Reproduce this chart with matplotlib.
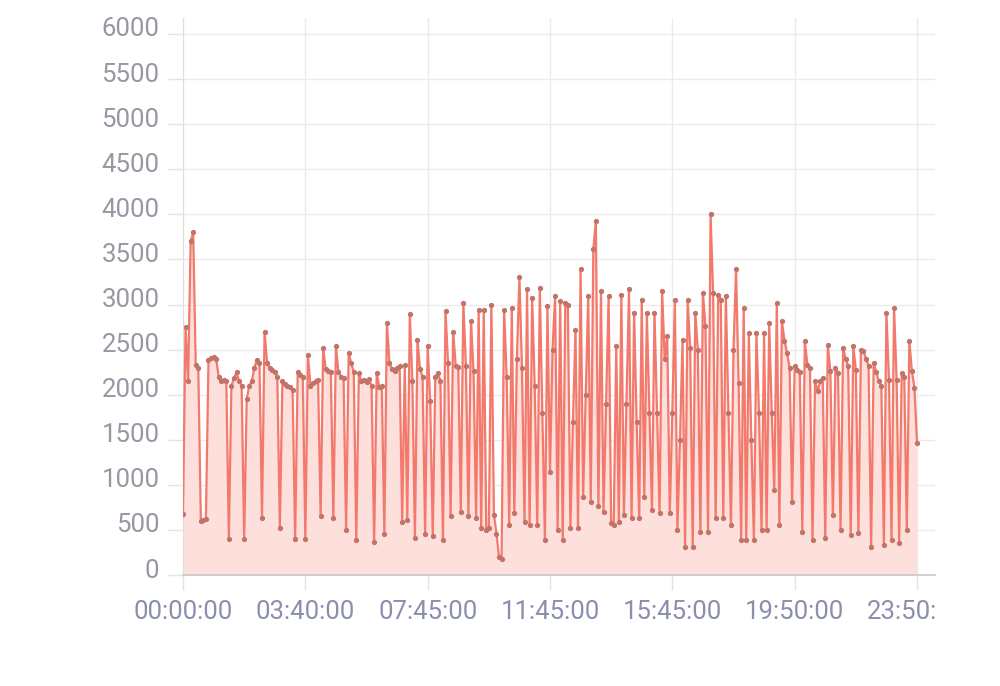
import matplotlib
matplotlib.use("Agg")
import matplotlib.pyplot as plt
from matplotlib.transforms import ScaledTranslation, Bbox

# readings taken over one day, one value per sample slot
values = [
    680, 2750, 2150, 3700, 3800, 2330, 2300, 600, 610, 620, 2380, 2410,
    2420, 2400, 2200, 2150, 2160, 2150, 400, 2100, 2180, 2250, 2150, 2100,
    400, 1950, 2100, 2150, 2300, 2380, 2350, 630, 2700, 2350, 2300, 2270,
    2250, 2200, 520, 2150, 2120, 2100, 2080, 2050, 400, 2250, 2220, 2200,
    400, 2440, 2100, 2130, 2150, 2160, 650, 2520, 2280, 2260, 2250, 630,
    2540, 2250, 2200, 2180, 500, 2460, 2350, 2250, 390, 2240, 2150, 2160,
    2140, 2170, 2100, 370, 2240, 2090, 2100, 460, 2800, 2350, 2280, 2260,
    2300, 2320, 590, 2330, 610, 2890, 2150, 410, 2610, 2280, 2200, 460,
    2540, 1930, 430, 2200, 2240, 2150, 390, 2930, 2350, 650, 2700, 2320,
    2310, 700, 3020, 2320, 650, 2820, 2260, 630, 2940, 520, 2940, 500,
    520, 3000, 670, 460, 200, 180, 2940, 2200, 555, 2960, 685, 2400,
    3300, 2300, 590, 3170, 555, 3070, 2100, 555, 3185, 1800, 390, 2980,
    1140, 2500, 3090, 500, 3040, 390, 3020, 3000, 520, 1700, 2720, 520,
    3390, 870, 2000, 3090, 815, 3610, 3930, 760, 3150, 700, 1900, 3090,
    575, 555, 2540, 590, 3110, 670, 1900, 3170, 630, 2910, 1700, 630,
    3055, 870, 2910, 1800, 720, 2910, 1800, 685, 3150, 2400, 2650, 685,
    1800, 3055, 500, 1500, 2610, 315, 3055, 2520, 315, 2910, 2500, 480,
    3130, 2760, 480, 4000, 3130, 630, 3110, 3055, 630, 3090, 1800, 555,
    2500, 3390, 2130, 390, 2960, 390, 2685, 1500, 390, 2685, 1800, 500,
    2685, 500, 2800, 1800, 944, 3018, 555, 2815, 2600, 2463, 2300, 815,
    2315, 2277, 2250, 481, 2593, 2333, 2296, 389, 2148, 2037, 2150, 2185,
    407, 2555, 2260, 667, 2296, 2240, 500, 2518, 2400, 2315, 444, 2537,
    2277, 463, 2500, 2481, 2400, 2315, 315, 2352, 2250, 2148, 2100, 333,
    2907, 2167, 389, 2963, 2167, 352, 2240, 2200, 500, 2593, 2260, 2074,
    1463,
]

# labels shown on the time axis (every 48th slot)
tick_labels = ["00:00:00", "03:40:00", "07:45:00", "11:45:00",
               "15:45:00", "19:50:00", "23:50:00"]
label_step = 48

y_ticks = list(range(0, 6001, 500))

plt.rcParams['font.family'] = ['Roboto', 'DejaVu Sans']

fig = plt.figure(figsize=(10, 6.86), dpi=100)
# plot box in figure fractions: x 183..935 px, y 575..18 px
ax = fig.add_axes([0.183, 1 - 575 / 686, 0.752, (575 - 18) / 686])

x = list(range(len(values)))

ax.fill_between(x, values, 0, color="#fde0dc", linewidth=0, zorder=1)
ax.plot(x, values, color="#f2796b", linewidth=1.6, zorder=3,
        marker="o", markersize=2.8, markerfacecolor="#c47369",
        markeredgecolor="#c47369")

ax.set_xlim(0, (935 - 183) / ((917 - 183) / (len(values) - 1)))
ax.set_ylim(0, 6000 * (575 - 18) / (575 - 34))

ax.set_xticks(list(range(0, len(values), label_step)))
ax.set_xticklabels(tick_labels)
ax.set_yticks(y_ticks)
ax.set_yticklabels([str(v) for v in y_ticks])

ax.grid(True, color="#ebebeb", linewidth=1.0, zorder=0)
ax.set_axisbelow(True)

for side in ["top", "right"]:
    ax.spines[side].set_visible(False)
ax.spines["left"].set_color("#dddddd")
ax.spines["bottom"].set_color("#c8c8c8")
ax.spines["bottom"].set_linewidth(1.2)

ax.tick_params(axis="x", length=11, width=1, color="#e3e3e3", pad=7,
               labelsize=18.5, labelcolor="#8b8fae")
ax.tick_params(axis="y", length=11, width=1, color="#e3e3e3", pad=6,
               labelsize=18.5, labelcolor="#9798a4")

# y labels sit a little above their grid lines
shift = ScaledTranslation(0, 7 / 100, fig.dpi_scale_trans)
for lab in ax.get_yticklabels():
    lab.set_transform(lab.get_transform() + shift)

# last time label is cut at the right edge of the chart box
clip = Bbox.from_extents(0, 0, 935, 686)
for lab in ax.get_xticklabels():
    lab.set_clip_box(clip)
    lab.set_clip_on(True)

fig.savefig("out.png", dpi=100)
